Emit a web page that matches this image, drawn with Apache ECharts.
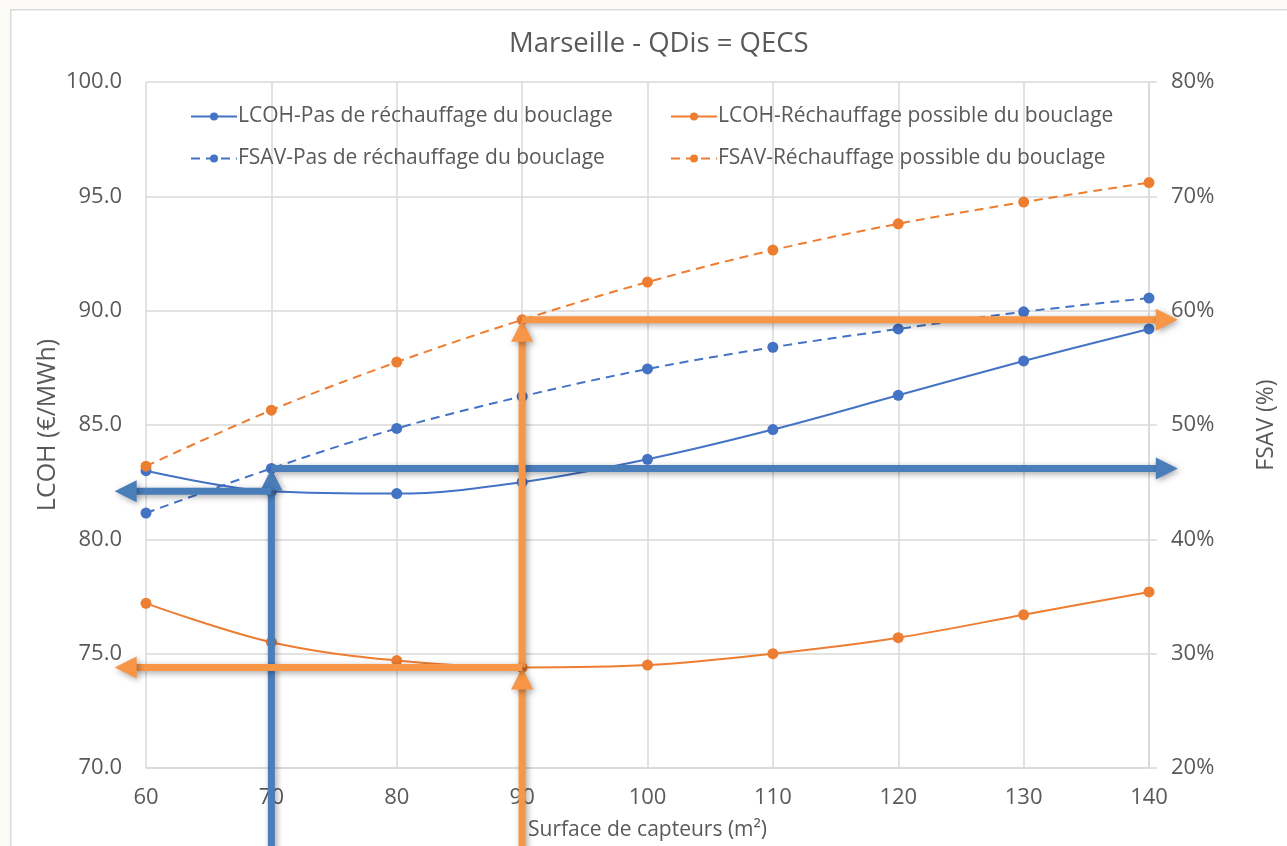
<!DOCTYPE html>
<html>
<head>
<meta charset="utf-8">
<script src="https://cdn.jsdelivr.net/npm/echarts@6/dist/echarts.min.js"></script>
<style>
  html, body { margin: 0; padding: 0; background: #fcfbf8; }
  #chart { width: 1287px; height: 846px; }
</style>
</head>
<body>
<div id="chart"></div>
<script>
// Surface de capteurs (m²)
const surfaces = [60, 70, 80, 90, 100, 110, 120, 130, 140];
// LCOH (€/MWh)
const lcohPas  = [83.0, 82.1, 82.0, 82.5, 83.5, 84.8, 86.3, 87.8, 89.2];
const lcohRech = [77.2, 75.5, 74.7, 74.4, 74.5, 75.0, 75.7, 76.7, 77.7];
// FSAV (%)
const fsavPas  = [42.3, 46.2, 49.7, 52.5, 54.9, 56.8, 58.4, 59.9, 61.1];
const fsavRech = [46.4, 51.3, 55.5, 59.2, 62.5, 65.3, 67.6, 69.5, 71.2];

const seriesNames = [
  'LCOH-Pas de réchauffage du bouclage',
  'LCOH-Réchauffage possible du bouclage',
  'FSAV-Pas de réchauffage du bouclage',
  'FSAV-Réchauffage possible du bouclage'
];

// Chosen operating points highlighted by arrows
const surfacePas = 70;
const surfaceRech = 90;

const L_MIN = 70, L_MAX = 100, R_MIN = 20, R_MAX = 80;
const FONT = 'Open Sans';
const TXT = '#595959';
const BLUE = '#4472C4', ORANGE = '#ED7D31';
const ARROW_BLUE = '#4a7ebb', ARROW_ORANGE = '#f79646';

// express a FSAV percentage on the LCOH axis scale
const toLeft = p => L_MIN + (p - R_MIN) * (L_MAX - L_MIN) / (R_MAX - R_MIN);
const pairs = arr => surfaces.map((s, i) => [s, arr[i]]);

// arrow extents beyond the plot (data units)
const X_LEFT_TIP = 57.5, X_RIGHT_TIP = 142.3, Y_BOTTOM = 66;

const iP = surfaces.indexOf(surfacePas);
const iR = surfaces.indexOf(surfaceRech);
// [x1, y1, x2, y2, colour] — arrow drawn from (x1,y1) pointing to (x2,y2)
const arrows = [
  [surfacePas, Y_BOTTOM, surfacePas, toLeft(fsavPas[iP]), 0],
  [surfacePas, lcohPas[iP], X_LEFT_TIP, lcohPas[iP], 0],
  [surfacePas, toLeft(fsavPas[iP]), X_RIGHT_TIP, toLeft(fsavPas[iP]), 0],
  [surfaceRech, Y_BOTTOM, surfaceRech, lcohRech[iR], 1],
  [surfaceRech, lcohRech[iR], surfaceRech, toLeft(fsavRech[iR]), 1],
  [surfaceRech, lcohRech[iR], X_LEFT_TIP, lcohRech[iR], 1],
  [surfaceRech, toLeft(fsavRech[iR]), X_RIGHT_TIP, toLeft(fsavRech[iR]), 1]
];

function renderArrow(params, api) {
  const p1 = api.coord([api.value(0), api.value(1)]);
  const p2 = api.coord([api.value(2), api.value(3)]);
  const color = api.value(4) === 0 ? ARROW_BLUE : ARROW_ORANGE;
  const dx = p2[0] - p1[0], dy = p2[1] - p1[1];
  const len = Math.sqrt(dx * dx + dy * dy);
  const ux = dx / len, uy = dy / len;
  const headLen = 22, headHalf = 11;
  const bx = p2[0] - ux * headLen, by = p2[1] - uy * headLen;
  const shadow = { shadowBlur: 6, shadowColor: 'rgba(0,0,0,0.35)', shadowOffsetX: 2, shadowOffsetY: 2 };
  return {
    type: 'group',
    children: [
      {
        type: 'line',
        shape: { x1: p1[0], y1: p1[1], x2: bx + ux * 2, y2: by + uy * 2 },
        style: Object.assign({ stroke: color, lineWidth: 7, lineCap: 'butt' }, shadow)
      },
      {
        type: 'polygon',
        shape: { points: [
          [p2[0], p2[1]],
          [bx - uy * headHalf, by + ux * headHalf],
          [bx + uy * headHalf, by - ux * headHalf]
        ] },
        style: Object.assign({ fill: color }, shadow)
      }
    ]
  };
}

const chart = echarts.init(document.getElementById('chart'));

const legendPos = [[185, 101], [665, 101], [185, 143], [665, 143]];
const legends = seriesNames.map((n, i) => ({
  data: [n],
  left: legendPos[i][0], top: legendPos[i][1],
  itemWidth: 46, itemHeight: 10, itemGap: 0,
  textStyle: { fontFamily: FONT, fontSize: 21, color: TXT, padding: [0, 0, 0, -4] },
  selectedMode: false
}));

function lineSeries(name, arr, yIndex, color, dashed) {
  return {
    name, type: 'line', yAxisIndex: yIndex,
    data: pairs(arr),
    smooth: 0.35,
    symbol: 'circle', symbolSize: 11,
    itemStyle: { color },
    lineStyle: { color, width: 2, type: dashed ? [9, 6] : 'solid' },
    z: 3
  };
}

chart.setOption({
  backgroundColor: 'transparent',
  animation: false,
  graphic: [{
    type: 'rect', left: 10, top: 9, z: -10,
    shape: { width: 1300, height: 860 },
    style: { fill: '#ffffff', stroke: '#d9d9d9', lineWidth: 1.5 }
  }],
  title: {
    text: 'Marseille - QDis = QECS',
    left: 504, top: 25,
    textStyle: { fontFamily: FONT, fontSize: 27.5, fontWeight: 'normal', color: TXT }
  },
  legend: legends,
  grid: { left: 146, right: 138, top: 82, bottom: 78, containLabel: false, outerBoundsMode: 'none' },
  xAxis: {
    type: 'value', min: 60, max: 140, interval: 10,
    name: 'Surface de capteurs (m²)', nameLocation: 'middle', nameGap: 52,
    nameTextStyle: { fontFamily: FONT, fontSize: 21, color: TXT },
    axisLine: { show: true, lineStyle: { color: '#d9d9d9', width: 1.5 } },
    axisTick: { show: false },
    axisLabel: { fontFamily: FONT, fontSize: 22, color: TXT, margin: 19 },
    splitLine: { show: true, lineStyle: { color: '#d9d9d9', width: 1.5 } }
  },
  yAxis: [
    {
      type: 'value', min: L_MIN, max: L_MAX, interval: 5,
      name: 'LCOH (€/MWh)', nameLocation: 'middle', nameGap: 86, nameRotate: 90,
      nameMoveOverlap: false,
      nameTextStyle: { fontFamily: FONT, fontSize: 25, color: TXT },
      axisLine: { show: false }, axisTick: { show: false },
      axisLabel: { fontFamily: FONT, fontSize: 22, color: TXT, margin: 24, formatter: v => v.toFixed(1) },
      splitLine: { show: true, lineStyle: { color: '#d9d9d9', width: 1.5 } }
    },
    {
      type: 'value', min: R_MIN, max: R_MAX, interval: 10, position: 'right',
      name: 'FSAV (%)', nameLocation: 'middle', nameGap: 106, nameRotate: 90,
      nameTextStyle: { fontFamily: FONT, fontSize: 23, color: TXT },
      axisLine: { show: true, lineStyle: { color: '#d9d9d9', width: 1.5 } },
      axisTick: { show: true, length: 8, lineStyle: { color: '#d9d9d9', width: 1.5 } },
      axisLabel: { fontFamily: FONT, fontSize: 22, color: TXT, margin: 22, formatter: v => v + '%' },
      splitLine: { show: false }
    }
  ],
  series: [
    lineSeries(seriesNames[0], lcohPas, 0, BLUE, false),
    lineSeries(seriesNames[1], lcohRech, 0, ORANGE, false),
    lineSeries(seriesNames[2], fsavPas, 1, BLUE, true),
    lineSeries(seriesNames[3], fsavRech, 1, ORANGE, true),
    {
      type: 'custom', name: 'repères', yAxisIndex: 0, clip: false, z: 10,
      renderItem: renderArrow,
      encode: { x: [0, 2], y: [1, 3] },
      data: arrows,
      silent: true
    }
  ]
});
</script>
</body>
</html>
